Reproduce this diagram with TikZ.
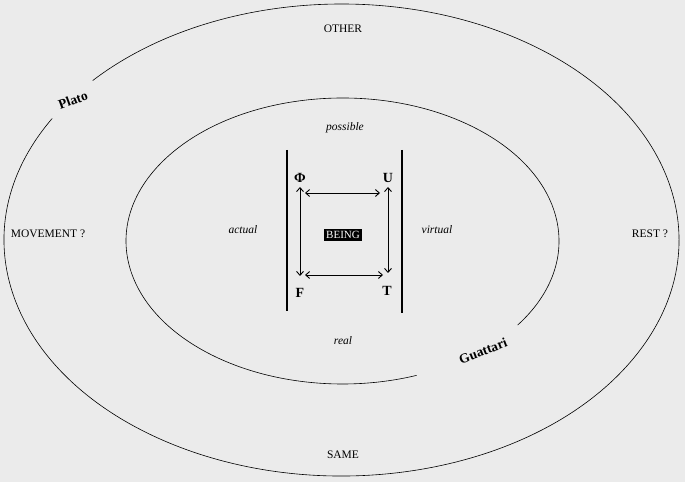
\documentclass[tikz,border=0pt]{standalone}
\usepackage{fontspec}
\setmainfont{Liberation Serif}
\usetikzlibrary{arrows.meta}
\definecolor{bg}{RGB}{235,235,235}
\begin{document}
\begin{tikzpicture}[x=1pt,y=1pt,
  lbl/.style={font=\fontsize{11.5}{13}\selectfont, inner sep=0pt},
  ilbl/.style={font=\fontsize{11.5}{13}\selectfont\itshape, inner sep=0pt},
  philo/.style={font=\fontsize{13.5}{15}\selectfont\bfseries, inner sep=0pt},
  corner/.style={font=\fontsize{14}{16}\selectfont\bfseries, inner sep=0pt},
  biarrow/.style={line width=0.9pt, {Straight Barb[length=4pt,width=7pt]}-{Straight Barb[length=4pt,width=7pt]}},
  ring/.style={line width=0.6pt},
  bar/.style={line width=1.1pt}]
\fill[bg] (0,0) rectangle (685,482);
\useasboundingbox (0,0) rectangle (685,482);
% outer ellipse with gap for Plato
\draw[ring] (341.5,242) ++(149:337.5 and 236) arc[start angle=149, end angle=497.5, x radius=337.5, y radius=236];
% inner ellipse with gap for Guattari
\draw[ring] (342.5,241) ++(-36:216.5 and 143) arc[start angle=-36, end angle=290, x radius=216.5, y radius=143];
% labels
\node[lbl] (other) at (343,453) {OTHER};
\node[lbl] (same) at (343,27) {SAME};
\node[lbl] (move) at (48,248) {MOVEMENT ?};
\node[lbl] (rest) at (650,248) {REST ?};
\node[ilbl] (possible) at (345,354) {possible};
\node[ilbl] (actual) at (243,252) {actual};
\node[ilbl] (virtual) at (437,252) {virtual};
\node[ilbl] (real) at (343,141) {real};
\node[philo, rotate=20] (plato) at (73,382) {Plato};
\node[philo, rotate=21] (guattari) at (483,131) {Guattari};
\node[fill=black, text=white, font=\fontsize{11}{12}\selectfont, inner sep=2.5pt] (being) at (343,247) {BEING};
% corners
\node[corner] (phi) at (300,304) {Φ};
\node[corner] (u) at (388,304) {U};
\node[corner] (f) at (300,189) {F};
\node[corner] (t) at (387,191) {T};
% bars
\coordinate (l1) at (287,332);
\coordinate (l2) at (287,171);
\coordinate (r1) at (402,332);
\coordinate (r2) at (402,169);
\draw[bar] (l1) -- (l2);
\draw[bar] (r1) -- (r2);
% arrows
\coordinate (a1) at (300,295);
\coordinate (a2) at (300,206);
\coordinate (b1) at (388,295);
\coordinate (b2) at (388,209);
\coordinate (c1) at (305,289);
\coordinate (c2) at (380,289);
\coordinate (d1) at (305,207);
\coordinate (d2) at (383,207);
\draw[biarrow] (a1) -- (a2);
\draw[biarrow] (b1) -- (b2);
\draw[biarrow] (c1) -- (c2);
\draw[biarrow] (d1) -- (d2);
\end{tikzpicture}
\end{document}
